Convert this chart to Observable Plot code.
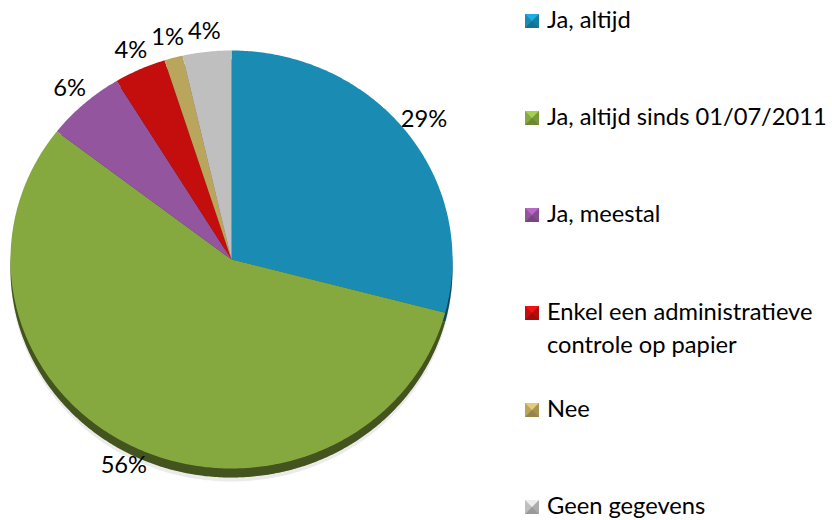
<!DOCTYPE html>
<html>
<head>
<meta charset="utf-8">
<script src="https://cdn.jsdelivr.net/npm/d3@7"></script>
<script src="https://cdn.jsdelivr.net/npm/@observablehq/plot@0.6"></script>
<style>
  html, body { margin: 0; padding: 0; background: #fff; }
  #wrap { position: relative; width: 832px; height: 520px; overflow: hidden; }
  #legend { position: absolute; left: 525px; top: 3px; }
  .item { position: absolute; left: 0; display: flex; align-items: flex-start; white-space: nowrap; color: #000; }
  .sw { width: 0; height: 0; border-style: solid; border-width: 7px; margin-top: 11px; margin-right: 8px; flex: none; }
</style>
</head>
<body>
<div id="wrap"><div id="legend"></div></div>
<script>
const categories = ["Ja, altijd", "Ja, altijd sinds 01/07/2011", "Ja, meestal", "Enkel een administratieve controle op papier", "Nee", "Geen gegevens"];
const legendLines = [["Ja, altijd"], ["Ja, altijd sinds 01/07/2011"], ["Ja, meestal"], ["Enkel een administratieve", "controle op papier"], ["Nee"], ["Geen gegevens"]];
const values = [29.1, 56.4, 5.8, 3.8, 1.35, 3.55];
const colors = ["#1a8cb4", "#86a93f", "#94559f", "#c40e0e", "#b9a55c", "#bfbfbf"];

const FONT = "Lato";
// fit font size so that the longest single legend line is ~280px wide
const ctx = document.createElement("canvas").getContext("2d");
ctx.font = `100px "${FONT}"`;
const fs = Math.round(280 / ctx.measureText("Ja, altijd sinds 01/07/2011").width * 100 * 10) / 10;

const rows = categories.map((c, i) => ({key: c, value: values[i]}));
const arcs = d3.pie().sort(null).value(d => d.value).startAngle(0).endAngle(2 * Math.PI)(rows);

const pts = [];
for (const a of arcs) {
  pts.push({key: a.data.key, x: 0, y: 0});
  const n = Math.max(4, Math.ceil((a.endAngle - a.startAngle) / 0.01));
  for (let k = 0; k <= n; k++) {
    const t = a.startAngle + (a.endAngle - a.startAngle) * k / n;
    pts.push({key: a.data.key, x: Math.sin(t), y: Math.cos(t)});
  }
  pts.push({key: a.data.key, x: 0, y: 0});
}
const labels = arcs.map(a => {
  const m = (a.startAngle + a.endAngle) / 2;
  return {key: a.data.key, x: Math.sin(m) * 1.1, y: Math.cos(m) * 1.1, text: Math.round(a.data.value) + "%"};
});

const opts = {x: "x", y: "y", z: "key", stroke: null, curve: "linear"};
const chart = Plot.plot({
  width: 832, height: 520, margin: 0,
  x: {domain: [-1, 1], range: [10, 452], axis: null},
  y: {domain: [-1, 1], range: [468, 50], axis: null},
  color: {domain: categories, range: colors},
  style: {fontFamily: FONT, fontSize: fs + "px", background: "transparent"},
  marks: [
    Plot.line(pts, {...opts, fill: "#000", fillOpacity: 0.08, dy: 13}),
    Plot.line(pts, {...opts, fill: "key", dy: 9}),
    Plot.line(pts, {...opts, fill: "#000", fillOpacity: 0.5, dy: 9}),
    Plot.line(pts, {...opts, fill: "key"}),
    Plot.text(labels, {x: "x", y: "y", text: "text", fill: "#000", fontSize: fs})
  ]
});
chart.style.position = "absolute";
chart.style.left = "0px";
chart.style.top = "0px";
document.getElementById("wrap").prepend(chart);

const lg = document.getElementById("legend");
const lighten = (c, k) => d3.color(c).brighter(k).formatHex();
const darken = (c, k) => d3.color(c).darker(k).formatHex();
categories.forEach((c, i) => {
  const it = document.createElement("div");
  it.className = "item";
  it.style.top = (i * 97.2) + "px";
  it.style.fontFamily = `"${FONT}"`;
  it.style.fontSize = fs + "px";
  it.style.lineHeight = "33px";
  const sw = document.createElement("div");
  sw.className = "sw";
  const col = colors[i];
  sw.style.borderTopColor = lighten(col, 0.6);
  sw.style.borderLeftColor = col;
  sw.style.borderRightColor = darken(col, 0.3);
  sw.style.borderBottomColor = darken(col, 0.6);
  it.appendChild(sw);
  const tx = document.createElement("div");
  tx.innerHTML = legendLines[i].join("<br>");
  it.appendChild(tx);
  lg.appendChild(it);
});
</script>
</body>
</html>
